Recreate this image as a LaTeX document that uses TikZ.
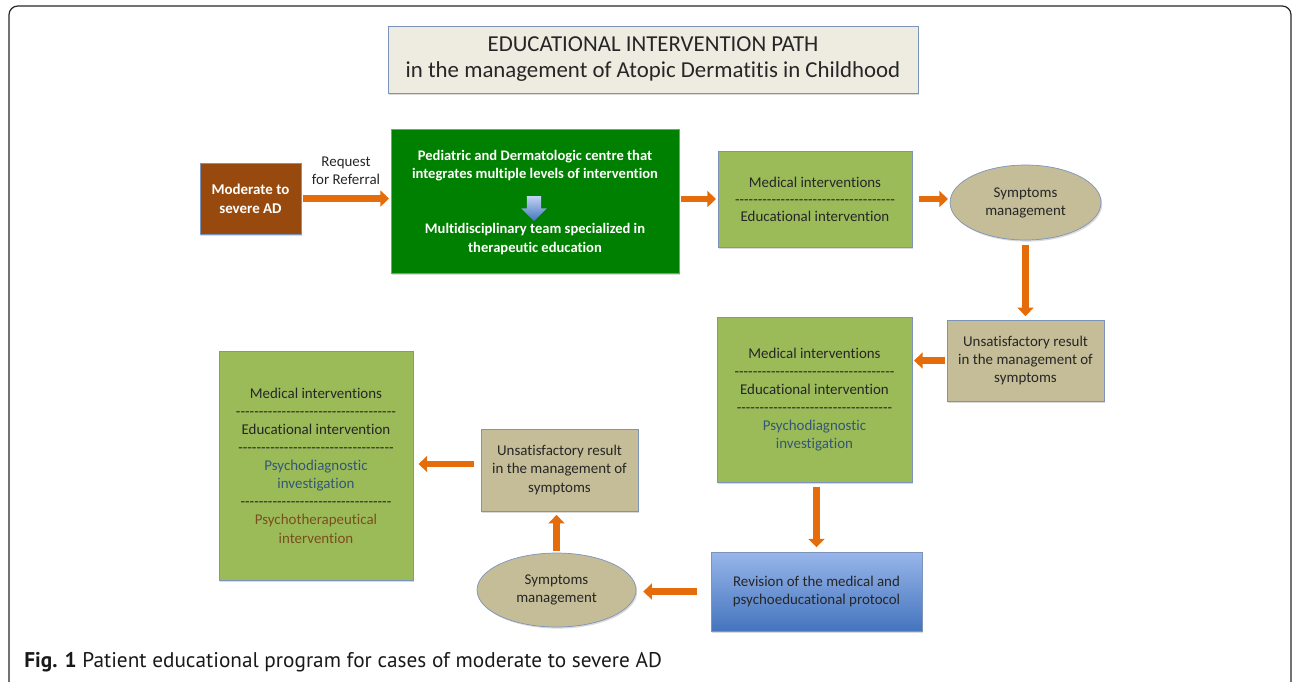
\documentclass[tikz,border=0pt]{standalone}
\usepackage{fontspec}
\setmainfont{Carlito}[Ligatures=NoCommon]
\newfontfamily\capfont{PT Sans}
\usetikzlibrary{positioning}
\usetikzlibrary{arrows.meta,shapes.geometric,shapes.arrows}
\usetikzlibrary{shadows}
\definecolor{arrowor}{RGB}{228,108,10}
\definecolor{medgreen}{RGB}{155,187,89}
\definecolor{tanfill}{RGB}{196,189,151}
\definecolor{boxline}{RGB}{125,148,186}
\definecolor{adbrown}{RGB}{152,74,14}
\definecolor{centregreen}{RGB}{0,128,0}
\definecolor{titlefill}{RGB}{238,236,225}
\definecolor{psychblue}{RGB}{52,86,118}
\definecolor{psychbrown}{RGB}{122,78,30}
\definecolor{revtop}{RGB}{152,182,234}
\definecolor{revbot}{RGB}{68,116,190}
\definecolor{framegray}{RGB}{40,40,40}

\newcommand{\dashrow}[1]{\foreach \k in {1,...,#1}{-{}}}

\begin{document}
\begin{tikzpicture}[x=0.02cm,y=-0.02cm,
  shade/.style={drop shadow={shadow xshift=0.7pt,shadow yshift=-0.9pt,opacity=0.3}},
  txt/.style={font=\fontsize{8.5}{10.3}\selectfont,align=center,text=black!85},
  medbox/.style={draw=boxline,fill=medgreen,rectangle,shade,txt,inner sep=0pt},
  tanbox/.style={draw=boxline,fill=tanfill,rectangle,shade,txt,inner sep=0pt},
  tanoval/.style={draw=boxline,fill=tanfill,ellipse,shade,txt,inner sep=0pt},
  flow/.style={draw=arrowor,line width=3.9pt,-{Triangle[length=4.8pt,width=9pt]},shorten <=1.2pt,shorten >=1pt}]
\useasboundingbox (0,0) rectangle (1293,681);
% outer frame
\draw[framegray,line width=0.7pt,rounded corners=5pt] (9,720) -- (9,6) -- (1291,6) -- (1291,720);

% title
\node (title) at (653,59.5) [draw=boxline,fill=titlefill,rectangle,shade,minimum width=10.6cm,minimum height=1.34cm,
  font=\fontsize{13}{14.8}\selectfont,align=center,text=black!85]
  {EDUCATIONAL INTERVENTION PATH\\in the management of Atopic Dermatitis in Childhood};

% first row
\node (mod) at (250.5,198.5) [draw=boxline,fill=adbrown,rectangle,shade,minimum width=2.02cm,minimum height=1.42cm,
  font=\fontsize{8.5}{11}\selectfont\bfseries,text=white,align=center] {Moderate to\\severe AD};
\node (centre) at (535,201) [draw=boxline,fill=centregreen,rectangle,shade,minimum width=5.76cm,minimum height=2.88cm] {};
\node (ctop) at (535,166) [font=\fontsize{8.3}{10.3}\selectfont\bfseries,text=white,align=center]
  {Pediatric and Dermatologic centre that\\integrates multiple levels of intervention};
\node (down) at (534,205) [single arrow,shape border rotate=270,top color=revtop!60!white,bottom color=revbot,draw=none,
  minimum height=0.5cm,minimum width=0.5cm,inner sep=0.135cm,single arrow head extend=0.11cm] {};
\node (cbot) at (535,239) [font=\fontsize{8.3}{10.3}\selectfont\bfseries,text=white,align=center]
  {Multidisciplinary team specialized in\\therapeutic education};
\node (med1) at (815,199) [medbox,minimum width=3.88cm,minimum height=1.92cm]
  {Medical interventions\\[-0.6pt]\dashrow{35}\\[-0.6pt]Educational intervention};
\node (sym1) at (1025.5,202.5) [tanoval,minimum width=3.02cm,minimum height=1.5cm] {Symptoms\\management};

% right column
\node (unsat1) at (1025.5,360.5) [tanbox,minimum width=3.14cm,minimum height=1.62cm]
  {Unsatisfactory result\\in the management of\\symptoms};
\node (med2) at (814.5,399.5) [medbox,minimum width=3.9cm,minimum height=3.3cm]
  {Medical interventions\\\dashrow{35}\\Educational intervention\\\dashrow{34}\\
   \textcolor{psychblue}{Psychodiagnostic}\\\textcolor{psychblue}{investigation}};
\node (rev) at (816.5,591.5) [draw=boxline,rectangle,shade,top color=revtop,bottom color=revbot,
  minimum width=4.22cm,minimum height=1.58cm,txt] {Revision of the medical and\\psychoeducational protocol};

% bottom row
\node (sym2) at (556.5,590) [tanoval,minimum width=3.18cm,minimum height=1.48cm] {Symptoms\\management};
\node (unsat2) at (559.5,470) [tanbox,minimum width=3.14cm,minimum height=1.64cm]
  {Unsatisfactory result\\in the management of\\symptoms};
\node (med3) at (316,465.5) [medbox,minimum width=3.88cm,minimum height=4.58cm]
  {Medical interventions\\\dashrow{35}\\Educational intervention\\\dashrow{34}\\
   \textcolor{psychblue}{Psychodiagnostic}\\\textcolor{psychblue}{investigation}\\\dashrow{33}\\
   \textcolor{psychbrown}{Psychotherapeutical}\\\textcolor{psychbrown}{intervention}};

% arrows
\draw[flow] (mod) -- node[above=2.5pt,txt] {Request\\for Referral} (centre.west |- mod.east);
\draw[flow] (centre.east |- med1.west) -- (med1);
\draw[flow,shorten <=4pt] (med1) -- (sym1.west |- med1.east);
\draw[flow,shorten <=2.5pt,shorten >=2pt] (sym1) -- (unsat1);
\draw[flow] (unsat1) -- (med2.east |- unsat1.west);
\draw[flow,shorten <=2.5pt,shorten >=2.5pt] (med2.south -| rev.north) -- (rev);
\draw[flow,shorten <=8pt,shorten >=4pt] (rev) -- (sym2.east |- rev.west);
\draw[flow,shorten >=2pt] (sym2) -- (unsat2.south -| sym2.north);
\draw[flow,shorten <=4pt,shorten >=3pt] (unsat2.west) ++(0,-6) coordinate (u2w) (u2w) -- (med3.east |- u2w);

% caption
\node (cap) at (24,662) [anchor=west,font=\capfont\fontsize{12.1}{13}\selectfont,text=black!90,inner sep=0pt]
  {\textbf{Fig. 1} Patient educational program for cases of moderate to severe AD};
\end{tikzpicture}
\end{document}
